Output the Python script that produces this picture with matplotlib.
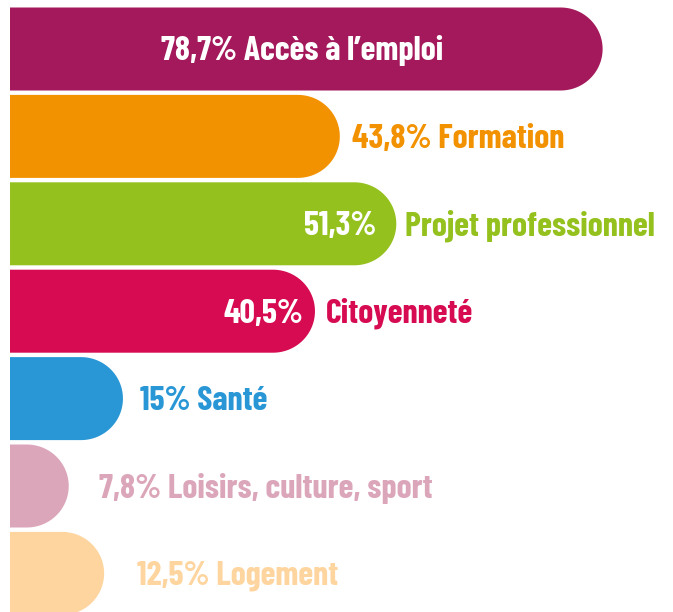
import numpy as np
import matplotlib
matplotlib.use("Agg")
import matplotlib.pyplot as plt
from matplotlib.path import Path
from matplotlib.patches import PathPatch

# ---- data ----
categories = ["Accès à l’emploi", "Formation", "Projet professionnel", "Citoyenneté",
              "Santé", "Loisirs, culture, sport", "Logement"]
values = [78.7, 43.8, 51.3, 40.5, 15.0, 7.8, 12.5]
value_labels = ["78,7%", "43,8%", "51,3%", "40,5%", "15%", "7,8%", "12,5%"]
colors = ["#A3195B", "#F39200", "#95C11F", "#D60B51", "#2997D5", "#DCA6BA", "#FED59F"]
# label placement: 'inside' full label, 'split' value inside / name outside, 'outside'
modes = ["inside", "outside", "split", "split", "outside", "outside", "outside"]
gaps_px = [0, 12, 0, 0, 17, 30, 33]
inner_gap_px = [0, 0, 20, 12, 0, 0, 0]
outer_gap_px = [0, 0, 9, 11, 0, 0, 0]

FONT = dict(family=["Barlow Condensed", "DejaVu Sans"], weight=700)

W, H = 673, 612
fig = plt.figure(figsize=(W / 100, H / 100), dpi=100)
ax = fig.add_axes([0, 0, 1, 1])
PX = 7.53  # pixels per percent
x0px = 10
ax.set_xlim(-x0px / PX, (W - x0px) / PX)
ax.set_ylim(H, 0)
ax.axis("off")

bar_h = 83
pitch = 87.4
c0 = 49
rx = 42 / PX
fs = 24.5
base_off = 11.5

for i, (v, c) in enumerate(zip(values, colors)):
    yc = c0 + i * pitch
    y0, y1 = yc - bar_h / 2, yc + bar_h / 2
    xs = v - rx
    t = np.linspace(np.pi / 2, -np.pi / 2, 80)
    arc = np.column_stack([xs + rx * np.cos(t), yc - (bar_h / 2) * np.sin(t)])
    verts = np.vstack([[0, y0], [xs, y0], arc, [0, y1], [0, y0]])
    codes = [Path.MOVETO] + [Path.LINETO] * (len(verts) - 2) + [Path.CLOSEPOLY]
    ax.add_patch(PathPatch(Path(verts, codes), facecolor=c, edgecolor="none"))

    yb = yc + base_off
    m = modes[i]
    if m == "inside":
        ax.text(v / 2 - 0.5, yb, f"{value_labels[i]} {categories[i]}", color="white",
                ha="center", va="baseline", fontsize=fs, **FONT)
    elif m == "split":
        ax.text(v - inner_gap_px[i] / PX, yb, value_labels[i], color="white", ha="right",
                va="baseline", fontsize=fs, **FONT)
        ax.text(v + outer_gap_px[i] / PX, yb, categories[i], color=c, ha="left",
                va="baseline", fontsize=fs, **FONT)
    else:
        ax.text(v + gaps_px[i] / PX, yb, f"{value_labels[i]} {categories[i]}", color=c,
                ha="left", va="baseline", fontsize=fs, **FONT)

fig.savefig("out.png", dpi=100, facecolor="white")
